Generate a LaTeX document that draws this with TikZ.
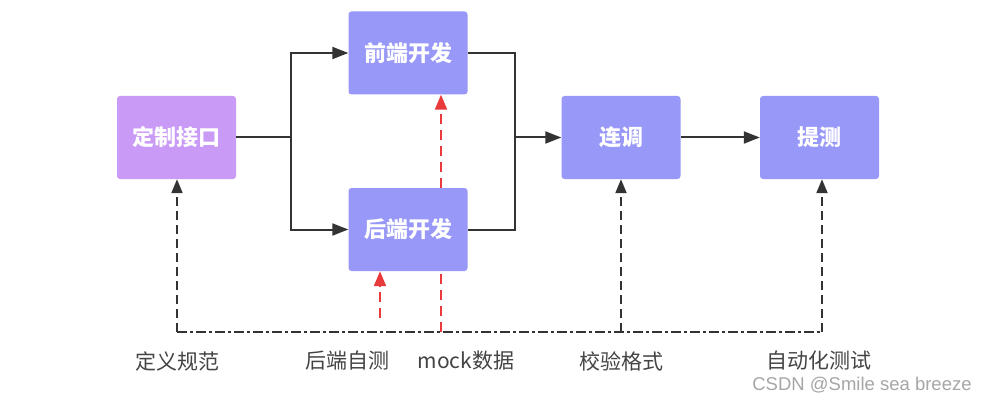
\documentclass[tikz,border=0pt]{standalone}
\usepackage{fontspec}
\setmainfont{Noto Sans CJK SC}
\newfontfamily\wmfont{Liberation Sans}
\usetikzlibrary{arrows.meta}
\pgfdeclarelayer{bg}
\pgfsetlayers{bg,main}
\definecolor{boxblue}{HTML}{9898F8}
\definecolor{boxpurple}{HTML}{C99AF6}
\definecolor{lblgray}{HTML}{444444}
\definecolor{linegray}{HTML}{333333}
\definecolor{redline}{HTML}{E83A3A}
\tikzset{
  procbox/.style={draw=none, rounded corners=3pt, minimum width=119pt, minimum height=83pt, text=white, font=\fontsize{22}{26}\selectfont\bfseries, inner sep=0pt},
  flow/.style={draw=linegray, line width=2pt, -{Triangle[length=16pt,width=12pt]}},
  flowline/.style={draw=linegray, line width=2pt},
  feedback/.style={draw=linegray, line width=2pt, dash pattern=on 9pt off 5pt, -{Triangle[length=14pt,width=11pt]}},
  baseline/.style={draw=linegray, line width=2pt, dash pattern=on 10pt off 3pt on 3pt off 3pt},
  redfb/.style={draw=redline, line width=2.2pt, dash pattern=on 10pt off 6pt, -{Triangle[length=15pt,width=12pt]}, redline},
  lbl/.style={text=lblgray, font=\fontsize{21}{25}\selectfont, inner sep=0pt}
}
\begin{document}
\begin{tikzpicture}[x=1pt,y=-1pt]
\useasboundingbox (0,0) rectangle (988,401);
\begin{pgfonlayer}{bg}
\fill[white] (0,0) rectangle (988,401);
\end{pgfonlayer}
% boxes
\node[procbox, fill=boxpurple] (api) at (176.5,137.5) {定制接口};
\node[procbox, fill=boxblue] (fe) at (408,53) {前端开发};
\node[procbox, fill=boxblue] (be) at (408,229.5) {后端开发};
\node[procbox, fill=boxblue] (lt) at (621,137.5) {连调};
\node[procbox, fill=boxblue] (tc) at (819.5,137.5) {提测};
% flow lines
\coordinate (s1) at (291,137.5);
\coordinate (s2) at (515,137.5);
\draw[flowline] (api.east) -- (s1);
\draw[flow] (s1) |- (fe.west);
\draw[flow] (s1) |- (be.west);
\draw[flowline] (fe.east) -| (s2);
\draw[flowline] (be.east) -| (s2);
\draw[flow] (s2) -- (lt.west);
\draw[flow] (lt.east) -- (tc.west);
% baseline
\coordinate (b0) at (177,332);
\coordinate (b1) at (621,332);
\coordinate (b2) at (822,332);
\draw[baseline] (b0) -- (b2);
\draw[feedback] (b0) -- (api.south -| b0);
\draw[feedback] (b1) -- (lt.south -| b1);
\draw[feedback] (b2) -- (tc.south -| b2);
% red lines
\coordinate (rb1) at (441,332);
\coordinate (rb2) at (380,318);
\begin{pgfonlayer}{bg}
\draw[redfb] (rb1) -- (fe.south -| rb1);
\end{pgfonlayer}
\draw[redfb] (rb2) -- (be.south -| rb2);
% labels
\node[lbl] (l1) at (177,361) {定义规范};
\node[lbl] (l2) at (347,361) {后端自测};
\node[lbl] (l3) at (466,361) {mock数据};
\node[lbl] (l4) at (621,361) {校验格式};
\node[lbl] (l5) at (819,361) {自动化测试};
\node[text=gray!70, font=\wmfont\fontsize{18.5}{22}\selectfont, inner sep=0pt] (wm) at (862,385) {CSDN @Smile sea breeze};
\end{tikzpicture}
\end{document}
